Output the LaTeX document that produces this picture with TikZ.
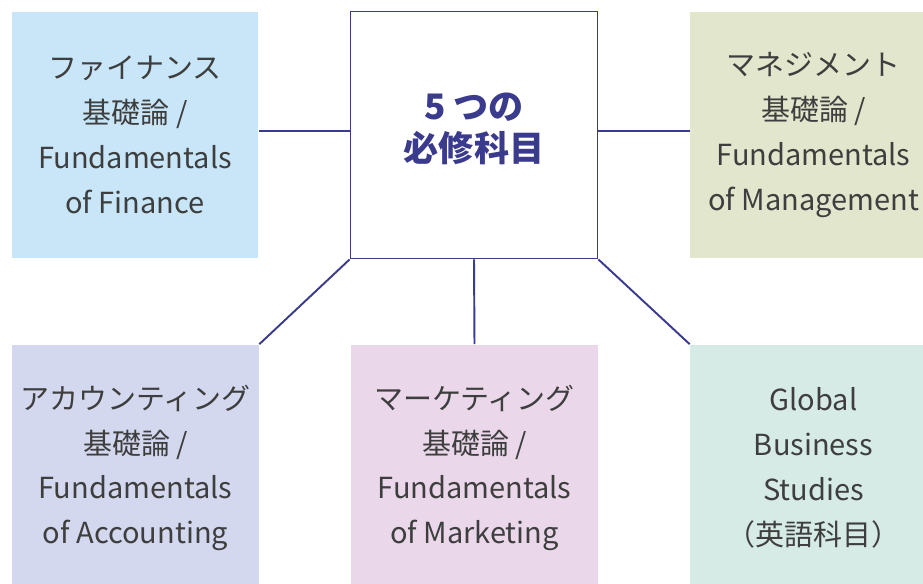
\documentclass[tikz,border=0pt]{standalone}
\usepackage{fontspec}
\setmainfont{Noto Sans CJK JP}
\usepackage{tikz}

\definecolor{navy}{RGB}{59,59,142}
\definecolor{ink}{RGB}{62,62,62}
\definecolor{finblue}{RGB}{200,230,248}
\definecolor{mgtolive}{RGB}{225,230,204}
\definecolor{acclav}{RGB}{211,216,238}
\definecolor{mktpink}{RGB}{234,216,234}
\definecolor{gbsmint}{RGB}{214,235,230}

\tikzset{
  box/.style={minimum width=4.94cm, minimum height=4.94cm, inner sep=0pt,
    align=center, text=ink, font=\fontsize{16.5}{25.5}\selectfont},
  hub/.style={box, draw=navy, line width=1.1pt, fill=white},
  hubtext/.style={align=center, text=navy,
    font=\fontsize{20}{24}\selectfont\bfseries},
  link/.style={draw=navy, line width=1.1pt}
}

\begin{document}
\begin{tikzpicture}[x=0.02cm,y=-0.02cm]
  \useasboundingbox (0,0) rectangle (923,583);
  \clip (0,0) rectangle (923,583);

  \node[hub] (core) at (474,135) {};
  \node[hubtext] (title) at (474,129) {5 つの\\必修科目};
  \node[box,fill=finblue] (fin) at (135,135)
    {ファイナンス\\基礎論 /\\Fundamentals\\of Finance};
  \node[box,fill=mgtolive] (mgt) at (813.5,135)
    {マネジメント\\基礎論 /\\Fundamentals\\of Management};
  \node[box,fill=acclav] (acc) at (135.5,468)
    {アカウンティング\\基礎論 /\\Fundamentals\\of Accounting};
  \node[box,fill=mktpink] (mkt) at (474.5,468)
    {マーケティング\\基礎論 /\\Fundamentals\\of Marketing};
  \node[box,fill=gbsmint] (gbs) at (813.5,468)
    {Global\\Business\\Studies\\（英語科目）};

  \draw[link] ([yshift=0.08cm]fin.east) -- ([yshift=0.08cm]core.west);
  \draw[link] ([yshift=0.08cm]core.east) -- ([yshift=0.08cm]mgt.west);
  \draw[link] (core.south west) -- (acc.north east);
  \draw[link] (core.south) -- (mkt.north);
  \draw[link] (core.south east) -- (gbs.north west);
\end{tikzpicture}
\end{document}
